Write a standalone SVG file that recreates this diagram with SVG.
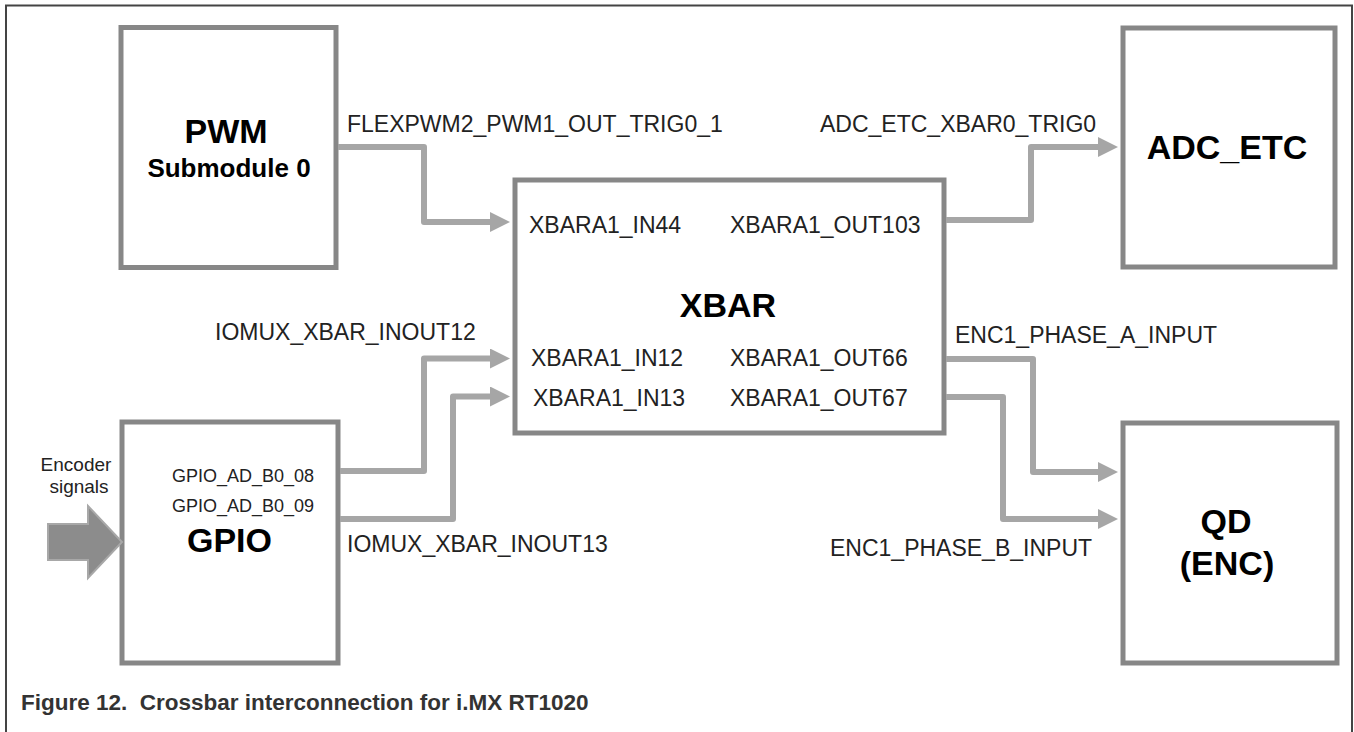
<svg xmlns="http://www.w3.org/2000/svg" width="1354" height="732" viewBox="0 0 1354 732">
<style>
.box{fill:#fff;stroke:#878787;stroke-width:5}
.conn{fill:none;stroke:#a6a6a6;stroke-width:6;stroke-linejoin:round}
.lbl{font-family:"Liberation Sans",Arial,sans-serif;font-size:23px;fill:#222}
.sm{font-family:"Liberation Sans",Arial,sans-serif;font-size:18px;fill:#222}
.enc{font-family:"Liberation Sans",Arial,sans-serif;font-size:19px;fill:#222;text-anchor:middle}
.big{font-family:"Liberation Sans",Arial,sans-serif;font-size:34px;font-weight:bold;fill:#000;text-anchor:middle}
.cap{font-family:"Liberation Sans",Arial,sans-serif;font-size:22.5px;font-weight:bold;fill:#333;white-space:pre}
</style>
<defs>
<marker id="ah" viewBox="0 0 20 20" refX="2" refY="10" markerWidth="20" markerHeight="20" markerUnits="userSpaceOnUse" orient="auto">
<path d="M0,0 L20,10 L0,20 Z" fill="#a6a6a6"/>
</marker>
</defs>
<rect width="1354" height="732" fill="#fff"/>
<path d="M6,732 V5.5 H1352 V732" fill="none" stroke="#444" stroke-width="2"/>

<g id="pwm">
<rect class="box" x="121" y="27.5" width="215" height="240"/>
<text class="big" x="226" y="143">PWM</text>
<text class="big" x="229" y="177" style="font-size:26px">Submodule 0</text>
</g>

<g id="xbar">
<rect class="box" x="515" y="180" width="429" height="253"/>
<text class="big" x="728" y="317">XBAR</text>
<text class="lbl" x="529" y="233">XBARA1_IN44</text>
<text class="lbl" x="730" y="233">XBARA1_OUT103</text>
<text class="lbl" x="531" y="366">XBARA1_IN12</text>
<text class="lbl" x="730" y="366">XBARA1_OUT66</text>
<text class="lbl" x="533" y="406">XBARA1_IN13</text>
<text class="lbl" x="730" y="406">XBARA1_OUT67</text>
</g>

<g id="adc_etc">
<rect class="box" x="1123" y="28" width="212" height="239"/>
<text class="big" x="1227" y="159">ADC_ETC</text>
</g>

<g id="gpio">
<rect class="box" x="122" y="422" width="216" height="241"/>
<text class="sm" x="172" y="482">GPIO_AD_B0_08</text>
<text class="sm" x="172" y="512">GPIO_AD_B0_09</text>
<text class="big" x="229.5" y="552">GPIO</text>
</g>

<g id="qd">
<rect class="box" x="1123" y="423" width="214" height="240"/>
<text class="big" x="1226" y="533">QD</text>
<text class="big" x="1227" y="575">(ENC)</text>
</g>

<g id="encoder">
<text class="enc" x="76" y="471">Encoder</text>
<text class="enc" x="79" y="493">signals</text>
<path d="M48,524 H88 V506 L122,542 L88,578 V560 H48 Z" fill="#8c8c8c" stroke="#a8a8a8" stroke-width="2" stroke-linejoin="miter"/>
</g>

<g id="connectors">
<path class="conn" marker-end="url(#ah)" d="M338,147 H424 V222 H492"/>
<path class="conn" marker-end="url(#ah)" d="M946,220 H1031 V147 H1100"/>
<path class="conn" marker-end="url(#ah)" d="M340,471 H424 V358.5 H492"/>
<path class="conn" marker-end="url(#ah)" d="M340,519 H453 V396.5 H492"/>
<path class="conn" marker-end="url(#ah)" d="M946,359 H1033 V472 H1100"/>
<path class="conn" marker-end="url(#ah)" d="M946,397 H1003 V519 H1100"/>
</g>

<g id="labels">
<text class="lbl" x="347" y="132">FLEXPWM2_PWM1_OUT_TRIG0_1</text>
<text class="lbl" x="820" y="132">ADC_ETC_XBAR0_TRIG0</text>
<text class="lbl" x="215" y="340">IOMUX_XBAR_INOUT12</text>
<text class="lbl" x="347" y="552">IOMUX_XBAR_INOUT13</text>
<text class="lbl" x="955" y="343">ENC1_PHASE_A_INPUT</text>
<text class="lbl" x="830" y="556">ENC1_PHASE_B_INPUT</text>
</g>

<text class="cap" x="21" y="710" xml:space="preserve">Figure 12.  Crossbar interconnection for i.MX RT1020</text>
</svg>
